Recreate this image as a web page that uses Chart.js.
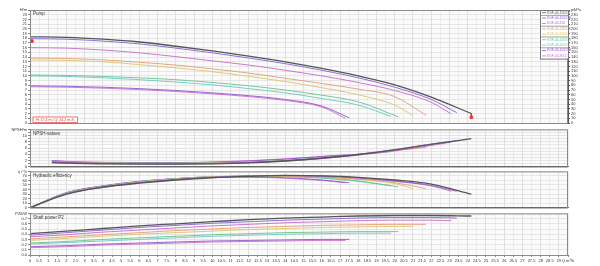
<!DOCTYPE html>
<html>
<head>
<meta charset="utf-8">
<script src="https://cdn.jsdelivr.net/npm/chart.js@4.4.0/dist/chart.umd.min.js"></script>
<style>
html, body { margin: 0; padding: 0; background: #fff; }
#wrap { position: relative; width: 600px; height: 266px; overflow: hidden; }
.panel { position: absolute; left: 0; width: 600px; }
</style>
</head>
<body>
<div id="wrap">
  <div class="panel" style="top:5px;height:123px"><canvas id="headChart"></canvas></div>
  <div class="panel" style="top:126px;height:44px"><canvas id="npshChart"></canvas></div>
  <div class="panel" style="top:168px;height:43px"><canvas id="effChart"></canvas></div>
  <div class="panel" style="top:210px;height:56px"><canvas id="powerChart"></canvas></div>
</div>
<script>
// series (pump models) and their colours
const seriesNames = ['KGF-40-150/1 T', 'KGF-40-150/1 B', 'KGF-40-150', 'KGF-40-130/1 B', 'KGF-40-130/1 T',
                     'KGF-40-105/1 B', 'KGF-40-105/1 T', 'KGF-40-105/2 B', 'KGF-40-90/1 T'];
const seriesColors = ['#555555', '#8462d0', '#c869c8', '#e79a73', '#d8c56a', '#67c48c', '#6cc7c4', '#9356cc', '#d46ad4'];

// flow points (m³/h): common grid, each curve ends at its own max flow
const qGrid = [0, 2, 4, 6, 8, 10, 12, 14, 16, 18, 20, 22, 24];
const qMax = [24.2, 23.4, 23.1, 21.7, 21.0, 20.2, 19.8, 17.5, 17.3];
const npshStartQ = 1.2;

// head H / m
const headValues = [
  [18.3, 18.2, 17.8, 17.2, 16.3, 15.3, 14.2, 13.0, 11.6, 10.0, 8.1, 5.5, 2.0],
  [17.9, 17.8, 17.4, 16.8, 15.9, 14.9, 13.8, 12.6, 11.2, 9.6, 7.6, 5.0, 2.2],
  [16.0, 15.9, 15.5, 14.9, 14.1, 13.2, 12.3, 11.2, 10.0, 8.6, 6.9, 4.4, 1.9],
  [13.8, 13.7, 13.4, 12.9, 12.3, 11.5, 10.6, 9.5, 8.4, 7.2, 5.6, 1.7],
  [13.4, 13.3, 13.0, 12.4, 11.7, 10.9, 9.9, 8.8, 7.5, 6.0, 3.8, 1.6],
  [10.2, 10.1, 9.9, 9.6, 9.2, 8.6, 7.9, 7.0, 5.9, 4.5, 1.3],
  [10.0, 9.9, 9.6, 9.2, 8.7, 8.1, 7.3, 6.4, 5.2, 3.8, 1.4],
  [7.9, 7.8, 7.6, 7.3, 6.9, 6.4, 5.8, 5.0, 3.6, 1.1],
  [7.7, 7.6, 7.4, 7.1, 6.7, 6.2, 5.6, 4.8, 3.4, 1.0]
];

// NPSH / m
const npshValues = [
  [1.3, 1.1, 0.9, 0.8, 0.8, 0.9, 1.2, 1.8, 2.7, 3.9, 5.4, 7.2, 9.0],
  [1.4, 1.2, 1.0, 0.9, 0.9, 1.0, 1.3, 1.9, 2.8, 4.0, 5.5, 7.3, 8.4],
  [1.6, 1.4, 1.1, 1.0, 0.9, 1.0, 1.3, 1.8, 2.6, 3.7, 5.1, 6.8, 7.9],
  [1.5, 1.3, 1.1, 1.0, 1.0, 1.1, 1.4, 1.9, 2.7, 3.8, 5.2, 6.2],
  [1.5, 1.3, 1.1, 1.0, 1.0, 1.1, 1.4, 1.9, 2.7, 3.8, 5.2, 5.9],
  [1.7, 1.5, 1.2, 1.1, 1.1, 1.2, 1.5, 2.0, 2.8, 3.9, 5.2],
  [1.7, 1.5, 1.2, 1.1, 1.1, 1.2, 1.5, 2.0, 2.8, 3.9, 4.8],
  [1.9, 1.6, 1.3, 1.2, 1.2, 1.4, 1.8, 2.4, 3.2, 3.8],
  [2.0, 1.7, 1.4, 1.3, 1.3, 1.5, 1.9, 2.5, 3.3, 3.8]
];

// hydraulic efficiency / %
const effValues = [
  [0, 30, 45, 54, 61, 66, 69, 71, 70, 67, 61, 52, 30],
  [0, 30, 45, 55, 62, 67, 70, 71, 70, 66, 59, 49, 36],
  [0, 31, 46, 55, 62, 67, 70, 71, 69, 65, 58, 48, 36],
  [0, 31, 46, 56, 63, 67, 70, 70, 68, 63, 55, 42],
  [0, 31, 46, 56, 63, 68, 70, 70, 67, 62, 53, 42],
  [0, 32, 47, 57, 64, 68, 70, 69, 66, 59, 46],
  [0, 32, 47, 57, 64, 68, 69, 68, 65, 58, 48],
  [0, 33, 48, 58, 64, 68, 68, 66, 61, 55],
  [0, 33, 48, 58, 64, 67, 67, 65, 60, 55]
];

// shaft power P2 / kW
const powerValues = [
  [0.41, 0.46, 0.51, 0.56, 0.60, 0.64, 0.68, 0.71, 0.73, 0.75, 0.76, 0.76, 0.75],
  [0.38, 0.43, 0.48, 0.53, 0.57, 0.61, 0.64, 0.67, 0.69, 0.71, 0.72, 0.72, 0.71],
  [0.35, 0.39, 0.44, 0.48, 0.52, 0.56, 0.59, 0.62, 0.64, 0.66, 0.67, 0.67, 0.66],
  [0.31, 0.35, 0.39, 0.43, 0.47, 0.50, 0.53, 0.55, 0.57, 0.58, 0.59, 0.59],
  [0.28, 0.32, 0.36, 0.40, 0.43, 0.46, 0.49, 0.51, 0.53, 0.54, 0.55, 0.55],
  [0.23, 0.26, 0.30, 0.33, 0.36, 0.39, 0.41, 0.43, 0.44, 0.45, 0.45],
  [0.21, 0.24, 0.27, 0.30, 0.33, 0.36, 0.38, 0.40, 0.41, 0.42, 0.42],
  [0.16, 0.18, 0.21, 0.23, 0.25, 0.27, 0.28, 0.29, 0.30, 0.30],
  [0.14, 0.16, 0.19, 0.21, 0.23, 0.25, 0.26, 0.27, 0.28, 0.28]
];

// red duty point markers on the head curve
const markQ = [0.1, 24.2];
const markH = [17.4, 1.2];
const noteText = 'H: 17.4 m | Q: 24.2 m³/h';

const FONT_FAMILY = '"Liberation Sans", Arial, sans-serif';
const TICK_FONT = { family: FONT_FAMILY, size: 4 };

function flowPoints(i, startQ) {
    const q = qGrid.filter(v => v < qMax[i] - 0.6);
    q[0] = startQ;
    return q.concat(qMax[i]);
}

function buildDatasets(values, startQ) {
    return values.map((vals, i) => {
        const q = flowPoints(i, startQ);
        return {
            label: seriesNames[i],
            data: q.map((x, j) => ({ x: x, y: vals[j] })),
            borderColor: seriesColors[i],
            borderWidth: i === 0 ? 1.3 : 0.9,
            pointRadius: 0,
            cubicInterpolationMode: 'monotone',
            fill: false
        };
    });
}

const isTop = (v, max) => Math.abs(v - max) < 1e-6;

function xScale(showLabels) {
    return {
        type: 'linear', min: 0, max: 29.5,
        ticks: {
            display: showLabels, stepSize: 0.5, autoSkip: false, maxRotation: 0,
            font: TICK_FONT, color: '#333', padding: 1,
            callback: v => isTop(v, 29.5) ? 'Q m³/h' : String(v)
        },
        grid: {
            color: ctx => (ctx.tick && Number.isInteger(ctx.tick.value)) ? '#d2d2d2' : '#e6e6e6',
            lineWidth: 0.7, drawTicks: showLabels, tickLength: 2, tickColor: '#555'
        },
        border: { color: '#555', width: 1 },
        afterFit: s => { s.height = showLabels ? 11 : 0; }
    };
}

function yScale(min, max, step, unit, fmt) {
    return {
        type: 'linear', position: 'left', min: min, max: max,
        ticks: {
            stepSize: step, autoSkip: false, font: TICK_FONT, color: '#333', padding: 1,
            callback: v => isTop(v, max) ? unit : fmt(v)
        },
        grid: { color: '#dcdcdc', lineWidth: 0.7, tickLength: 2, tickColor: '#555' },
        border: { color: '#555', width: 1 },
        afterFit: s => { s.width = 30; }
    };
}

// panel background, frame, title, legend and note
const decor = {
    id: 'decor',
    beforeDraw(chart) {
        const a = chart.chartArea, ctx = chart.ctx;
        ctx.save();
        ctx.fillStyle = '#fbfbfb';
        ctx.fillRect(a.left, a.top, a.right - a.left, a.bottom - a.top);
        ctx.restore();
    },
    afterDraw(chart, args, o) {
        const a = chart.chartArea, ctx = chart.ctx;
        ctx.save();
        ctx.strokeStyle = '#8a8a8a';
        ctx.lineWidth = 1;
        ctx.strokeRect(a.left + 0.5, a.top + 0.5, a.right - a.left - 1, a.bottom - a.top);
        ctx.font = '4.5px ' + FONT_FAMILY;
        ctx.fillStyle = '#333';
        ctx.textBaseline = 'top';
        if (o.title) ctx.fillText(o.title, a.left + 3, a.top + 2);

        if (o.legend) {
            const lx = 540, ly = a.top, lw = 28, rowH = 5.4;
            ctx.fillStyle = '#fff';
            ctx.fillRect(lx, ly, lw, rowH * seriesNames.length);
            ctx.strokeStyle = '#777';
            ctx.strokeRect(lx + 0.5, ly + 0.5, lw, rowH * seriesNames.length);
            ctx.font = '3.3px ' + FONT_FAMILY;
            ctx.textBaseline = 'middle';
            seriesNames.forEach((name, i) => {
                const yy = ly + rowH * i + rowH / 2;
                ctx.strokeStyle = seriesColors[i];
                ctx.lineWidth = 0.8;
                ctx.beginPath();
                ctx.moveTo(lx + 2, yy);
                ctx.lineTo(lx + 6, yy);
                ctx.stroke();
                ctx.fillStyle = seriesColors[i];
                ctx.fillText(name, lx + 7, yy);
                if (i === 0 || i === 2 || i === 4 || i === 6) {
                    ctx.strokeStyle = '#777';
                    ctx.lineWidth = 0.7;
                    ctx.beginPath();
                    ctx.moveTo(lx, ly + rowH * (i + 1));
                    ctx.lineTo(lx + lw, ly + rowH * (i + 1));
                    ctx.stroke();
                }
            });
        }

        if (o.note) {
            ctx.font = '3.6px ' + FONT_FAMILY;
            ctx.textBaseline = 'middle';
            const w = ctx.measureText(o.note).width + 6;
            ctx.fillStyle = '#fff';
            ctx.fillRect(a.left + 3, a.bottom - 6, w, 5.5);
            ctx.strokeStyle = '#e04040';
            ctx.lineWidth = 0.7;
            ctx.strokeRect(a.left + 3, a.bottom - 6, w, 5.5);
            ctx.fillStyle = '#e03030';
            ctx.fillText(o.note, a.left + 6, a.bottom - 3.2);
        }
        ctx.restore();
    }
};

function makeChart(id, datasets, yOpts, extraScales, plugOpts, showX, padRight) {
    const scales = { x: xScale(showX), y: yOpts };
    Object.assign(scales, extraScales || {});
    return new Chart(document.getElementById(id), {
        type: 'line',
        data: { datasets: datasets },
        options: {
            responsive: true,
            maintainAspectRatio: false,
            animation: false,
            layout: { padding: { top: 3, right: padRight, left: 0, bottom: 0 } },
            scales: scales,
            plugins: { legend: { display: false }, tooltip: { enabled: false }, decor: plugOpts }
        },
        plugins: [decor]
    });
}

// head panel with pressure axis on the right
const headSets = buildDatasets(headValues, 0);
headSets.push({
    label: 'duty',
    data: [{ x: qMax[0], y: headValues[0][headValues[0].length - 1] }, { x: markQ[1], y: markH[1] }],
    borderColor: '#e02020', borderWidth: 0.8, pointRadius: [0, 1.8], pointStyle: 'rect',
    pointBackgroundColor: '#f03030', pointBorderColor: '#f03030'
});
headSets.push({
    label: 'start',
    data: [{ x: markQ[0], y: markH[0] }],
    showLine: false, pointRadius: 1.8, pointStyle: 'rect',
    pointBackgroundColor: '#f03030', pointBorderColor: '#f03030'
});

makeChart('headChart', headSets,
    Object.assign(yScale(0, 24, 1, 'H/m', v => String(v)), {}),
    {
        p: {
            type: 'linear', position: 'right', min: 0, max: 240,
            ticks: {
                stepSize: 10, autoSkip: false, font: TICK_FONT, color: '#333', padding: 1,
                callback: v => isTop(v, 240) ? 'p/kPa' : String(v)
            },
            grid: { drawOnChartArea: false, tickLength: 2, tickColor: '#555' },
            border: { color: '#555', width: 1 },
            afterFit: s => { s.width = 32; }
        }
    },
    { title: 'Pump', legend: true, note: noteText }, false, 0);

// shift head chart padding so plot starts at y=9
Chart.getChart('headChart').options.layout.padding.top = 4;
Chart.getChart('headChart').update();

makeChart('npshChart', buildDatasets(npshValues, npshStartQ),
    yScale(0, 12, 1, 'NPSH/m', v => (v % 2 === 0 ? String(v) : '')),
    null, { title: 'NPSH-values' }, false, 32);

makeChart('effChart', buildDatasets(effValues, 0),
    yScale(0, 80, 10, 'η / %', v => String(v)),
    null, { title: 'Hydraulic efficiency' }, false, 32);

makeChart('powerChart', buildDatasets(powerValues, 0),
    yScale(0, 0.8, 0.1, 'P2/kW', v => v.toFixed(1)),
    null, { title: 'Shaft power P2' }, true, 32);
</script>
</body>
</html>
